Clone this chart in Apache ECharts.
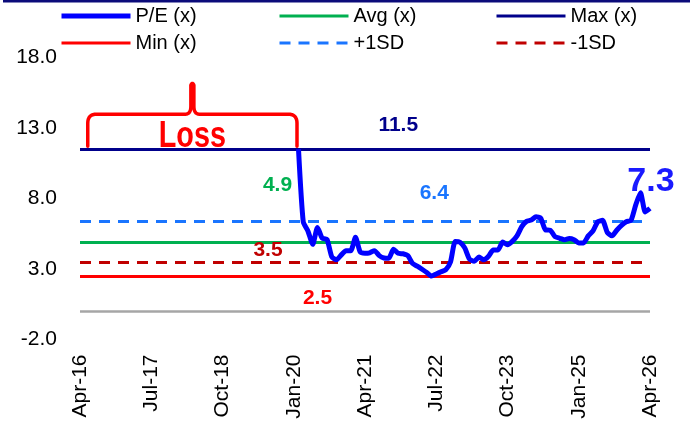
<!DOCTYPE html>
<html>
<head>
<meta charset="utf-8">
<script src="https://cdn.jsdelivr.net/npm/echarts@6/dist/echarts.min.js"></script>
<style>
  html, body { margin: 0; padding: 0; background: #fff; }
  #main { width: 694px; height: 427px; }
</style>
</head>
<body>
<div id="main"></div>
<script>
var dom = document.getElementById("main");
var myChart = echarts.init(dom);

// months Apr-16 .. Apr-26
var monthNames = ['Jan', 'Feb', 'Mar', 'Apr', 'May', 'Jun', 'Jul', 'Aug', 'Sep', 'Oct', 'Nov', 'Dec'];
var categories = [];
for (var i = 0; i <= 120; i++) {
    var mi = (3 + i) % 12;
    var yr = 16 + Math.floor((3 + i) / 12);
    categories.push(monthNames[mi] + '-' + yr);
}

// P/E (x) from Feb-20 (before that the company made a loss)
var peStart = 'Feb-20';
var peValues = [
    11.5, 6.35, 5.68, 4.75, 5.95, 5.18, 5.1, 3.87, 3.65, 4.0,
    4.3, 4.3, 5.25, 4.2, 4.11, 4.15, 4.3, 3.95, 3.78, 3.76,
    4.4, 4.11, 4.08, 3.95, 3.4, 3.2, 2.98, 2.75, 2.5, 2.65,
    2.8, 2.95, 3.5, 4.95, 4.9, 4.5, 3.7, 3.55, 3.85, 3.65,
    3.9, 4.35, 4.35, 4.92, 4.72, 4.96, 5.35, 6.0, 6.38, 6.47,
    6.7, 6.6, 5.77, 5.75, 5.29, 5.18, 5.07, 5.16, 5.08, 4.85,
    4.85, 5.35, 5.7, 6.35, 6.45, 5.6, 5.35, 5.75, 6.1, 6.35,
    6.45, 7.55, 8.4, 7.05, 7.3
];

// reference levels
var maxPE = 11.5;
var avgPE = 4.9;
var minPE = 2.5;
var plusSD = 6.4;
var minusSD = 3.5;

var yTicks = [-2, 3, 8, 13, 18];

var peData = [];
var startIdx = categories.indexOf(peStart);
for (var k = 0; k < categories.length; k++) {
    peData.push(k < startIdx ? null : peValues[k - startIdx]);
}

var font = "'Liberation Sans', Arial, sans-serif";

function refSeries(name, value, color, dash, labelAt, offset) {
    return {
        name: name,
        type: 'line',
        symbol: 'none',
        data: [],
        lineStyle: { color: color, width: 3, type: dash ? [11, 8] : 'solid' },
        itemStyle: { color: color },
        markLine: {
            silent: true,
            symbol: 'none',
            label: { show: false },
            lineStyle: { color: color, width: 3, type: dash ? [11, 8] : 'solid' },
            data: [{ yAxis: value }]
        },
        markPoint: {
            silent: true,
            symbolSize: 0,
            label: {
                show: true,
                position: 'inside',
                offset: offset,
                formatter: value.toFixed(1),
                color: color,
                fontFamily: font,
                fontSize: 21,
                fontWeight: 'bold'
            },
            data: [{ coord: [labelAt, value], value: value }]
        }
    };
}

var legendBase = {
    orient: 'vertical',
    top: 6,
    padding: 0,
    itemWidth: 69,
    itemHeight: 14,
    itemGap: 7,
    textStyle: { fontFamily: font, fontSize: 20, color: '#000', lineHeight: 20 },
    itemStyle: { opacity: 0 },
    lineStyle: { width: 'inherit' }
};

var option = {
    backgroundColor: '#fff',
    animation: false,
    legend: [
        Object.assign({}, legendBase, { left: 59, data: ['P/E (x)', 'Min (x)'] }),
        Object.assign({}, legendBase, { left: 278, data: ['Avg (x)', '+1SD'] }),
        Object.assign({}, legendBase, { left: 495, data: ['Max (x)', '-1SD'] })
    ],
    grid: { left: 80, right: 44, top: 57.5, bottom: 87.5 },
    xAxis: {
        type: 'category',
        boundaryGap: false,
        data: categories,
        axisLine: { show: false },
        axisTick: { show: false },
        splitLine: { show: false },
        axisLabel: {
            interval: 14,
            rotate: 90,
            margin: 15,
            color: '#000',
            fontFamily: font,
            fontSize: 21
        }
    },
    yAxis: {
        type: 'value',
        min: yTicks[0],
        max: yTicks[yTicks.length - 1],
        interval: 5,
        axisLine: { show: false },
        axisTick: { show: false },
        splitLine: { show: false },
        axisLabel: {
            margin: 23,
            color: '#000',
            fontFamily: font,
            fontSize: 21,
            formatter: function (v) { return v.toFixed(1); }
        }
    },
    series: [
        {
            name: 'zero',
            type: 'line',
            symbol: 'none',
            data: [],
            markLine: {
                silent: true,
                symbol: 'none',
                label: { show: false },
                lineStyle: { color: '#a6a6a6', width: 2.5, type: 'solid' },
                data: [{ yAxis: 0 }]
            }
        },
        refSeries('Max (x)', maxPE, '#00008b', false, 'Nov-21', [0, -24]),
        refSeries('Avg (x)', avgPE, '#00b050', false, 'Oct-19', [-2, -57]),
        refSeries('Min (x)', minPE, '#ff0000', false, 'Jun-20', [0, 22]),
        refSeries('+1SD', plusSD, '#1a75ff', true, 'Jul-22', [-2, -28]),
        refSeries('-1SD', minusSD, '#c00000', true, 'Aug-19', [-2, -12]),
        {
            name: 'P/E (x)',
            type: 'line',
            symbol: 'none',
            smooth: 0.2,
            data: peData,
            z: 5,
            lineStyle: { color: '#0000ff', width: 5 },
            itemStyle: { color: '#0000ff' },
            markPoint: {
                silent: true,
                symbolSize: 0,
                label: {
                    show: true,
                    position: 'inside',
                    offset: [1, -27],
                    formatter: '{c}',
                    color: '#1a1aff',
                    fontFamily: font,
                    fontSize: 34,
                    fontWeight: 'bold'
                },
                data: [{ coord: [categories[categories.length - 1], peValues[peValues.length - 1]], value: peValues[peValues.length - 1].toFixed(1) }]
            }
        }
    ]
};

myChart.setOption(option);

// "Loss" bracket over the period before the P/E line starts
var pL = myChart.convertToPixel({ gridIndex: 0 }, [1, maxPE]);
var pR = myChart.convertToPixel({ gridIndex: 0 }, [startIdx, maxPE]);
var xl = pL[0] + 3, xr = pR[0] - 1.5;
var xm = (xl + xr) / 2;
var yb = pL[1] - 3, yh = pL[1] - 35, yt = pL[1] - 66;

var pts = [];
function quad(p0, c, p1) {
    for (var t = 0; t <= 1.0001; t += 0.125) {
        var u = 1 - t;
        pts.push([u * u * p0[0] + 2 * u * t * c[0] + t * t * p1[0],
                  u * u * p0[1] + 2 * u * t * c[1] + t * t * p1[1]]);
    }
}
pts.push([xl, yb]);
quad([xl, yh + 9], [xl, yh], [xl + 9, yh]);
quad([xm - 7, yh], [xm - 1.5, yh], [xm - 1.5, yh - 8]);
quad([xm - 1.5, yt + 2], [xm, yt - 1.5], [xm + 1.5, yt + 2]);
quad([xm + 1.5, yh - 8], [xm + 1.5, yh], [xm + 7, yh]);
quad([xr - 9, yh], [xr, yh], [xr, yh + 9]);
pts.push([xr, yb]);

myChart.setOption({
    graphic: [
        {
            type: 'rect',
            left: 3, top: 0,
            shape: { width: 687, height: 2.5 },
            style: { fill: '#0b0b7a' }
        },
        {
            type: 'polyline',
            shape: { points: pts },
            style: { stroke: '#ff0000', lineWidth: 3.5, fill: null, lineCap: 'round', lineJoin: 'round' },
            z: 10
        },
        {
            type: 'text',
            x: xm, y: yh + 23,
            scaleX: 0.8,
            style: {
                text: 'Loss',
                fill: '#ff0000',
                font: "bold 36px 'Liberation Sans', Arial, sans-serif",
                align: 'center',
                verticalAlign: 'middle'
            },
            z: 10
        }
    ]
});

window.addEventListener("resize", () => {
    myChart.resize();
});
</script>
</body>
</html>
